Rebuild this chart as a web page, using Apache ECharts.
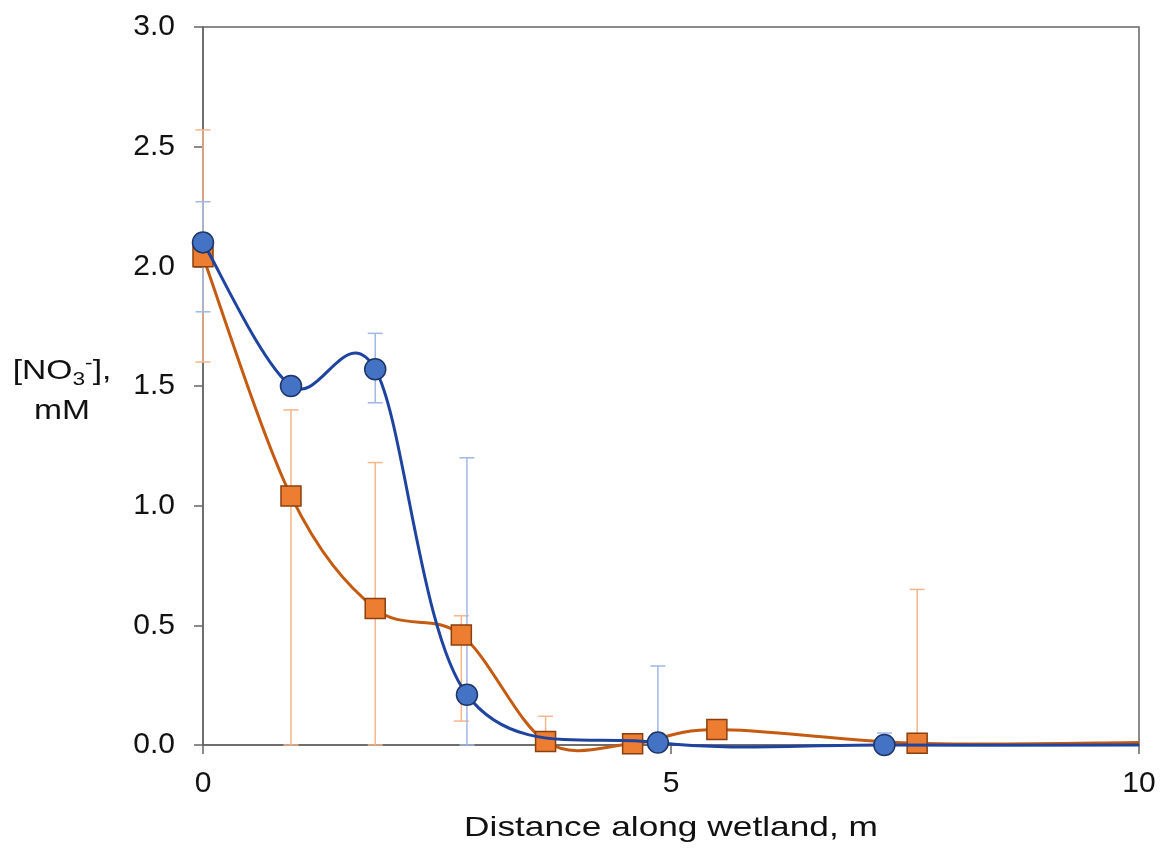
<!DOCTYPE html>
<html>
<head>
<meta charset="utf-8">
<script src="https://cdn.jsdelivr.net/npm/echarts@6/dist/echarts.min.js"></script>
<style>
html,body{margin:0;padding:0;background:#fff;}
#chart{width:1160px;height:850px;}
</style>
</head>
<body>
<div id="chart"></div>
<script>
// blue circles (last point only carries the line to the edge)
var blueX = [0, 0.94, 1.84, 2.82, 4.86, 7.28, 10];
var blueY = [2.10, 1.50, 1.57, 0.21, 0.01, 0.00, 0.00];
var blueLow  = [1.81, null, 1.43, 0.00, 0.00, 0.00, null];
var blueHigh = [2.27, null, 1.72, 1.20, 0.33, 0.05, null];
// orange squares
var orangeX = [0, 0.94, 1.84, 2.76, 3.66, 4.59, 5.49, 7.63, 10];
var orangeY = [2.04, 1.04, 0.57, 0.46, 0.015, 0.005, 0.065, 0.007, 0.01];
var orangeLow  = [1.60, 0.00, 0.00, 0.10, 0.00, null, null, 0.00, null];
var orangeHigh = [2.57, 1.40, 1.18, 0.54, 0.12, null, null, 0.65, null];
var yTicks = ['0.0', '0.5', '1.0', '1.5', '2.0', '2.5', '3.0'];

var chart = echarts.init(document.getElementById('chart'));

function marks(xs, ys) {
    var out = [];
    for (var i = 0; i < xs.length - 1; i++) out.push([xs[i], ys[i]]);
    return out;
}
function errs(xs, lo, hi) {
    var out = [];
    for (var i = 0; i < xs.length; i++) {
        if (lo[i] != null) out.push([xs[i], lo[i], hi[i]]);
    }
    return out;
}
function errBar(color) {
    return function (params, api) {
        var p1 = api.coord([api.value(0), api.value(1)]);
        var p2 = api.coord([api.value(0), api.value(2)]);
        var w = 7.5;
        var st = {stroke: color, lineWidth: 1.5};
        return {type: 'group', children: [
            {type: 'line', shape: {x1: p1[0], y1: p1[1], x2: p2[0], y2: p2[1]}, style: st},
            {type: 'line', shape: {x1: p1[0]-w, y1: p1[1], x2: p1[0]+w, y2: p1[1]}, style: st},
            {type: 'line', shape: {x1: p2[0]-w, y1: p2[1], x2: p2[0]+w, y2: p2[1]}, style: st}
        ]};
    };
}
// excel-like smoothed line (catmull-rom through the points)
function smoothLine(xs, ys, color) {
    return function (params, api) {
        var p = [];
        for (var i = 0; i < xs.length; i++) p.push(api.coord([xs[i], ys[i]]));
        var n = p.length, kids = [];
        for (var i = 0; i < n - 1; i++) {
            var a = p[Math.max(i-1, 0)], b = p[i], c = p[i+1], d = p[Math.min(i+2, n-1)];
            kids.push({type: 'bezierCurve', shape: {
                x1: b[0], y1: b[1], x2: c[0], y2: c[1],
                cpx1: b[0] + (c[0]-a[0])/6, cpy1: b[1] + (c[1]-a[1])/6,
                cpx2: c[0] - (d[0]-b[0])/6, cpy2: c[1] - (d[1]-b[1])/6
            }, style: {stroke: color, lineWidth: 3, fill: null}});
        }
        return {type: 'group', children: kids};
    };
}

var font = 'Liberation Sans, Arial, sans-serif';
var txt = '#111';
option = {
    animation: false,
    grid: {left: 203, right: 21, top: 27, bottom: 105, show: true, borderColor: '#666', borderWidth: 1.5,
        outerBoundsMode: 'none', containLabel: false},
    xAxis: {
        type: 'value', min: 0, max: 10, interval: 5,
        axisLine: {lineStyle: {color: '#666', width: 1.5}},
        axisTick: {show: true, length: 9, lineStyle: {color: '#666', width: 1.5}},
        axisLabel: {fontSize: 30, color: txt, fontFamily: font, margin: 24},
        splitLine: {show: false}
    },
    yAxis: {
        type: 'value', min: 0, max: 3, interval: 0.5,
        axisLine: {show: true, lineStyle: {color: '#666', width: 1.5}},
        axisTick: {show: true, length: 9, lineStyle: {color: '#666', width: 1.5}},
        axisLabel: {fontSize: 30, color: txt, fontFamily: font, margin: 28,
            formatter: function (v) { return yTicks[Math.round(v / 0.5)]; }},
        splitLine: {show: false}
    },
    graphic: [{
        type: 'text', x: 671, y: 828, scaleX: 1.26,
        style: {text: 'Distance along wetland, m', font: '28px ' + font, fill: txt,
            textAlign: 'center', textVerticalAlign: 'middle'}
    }, {
        type: 'text', x: 62, y: 391, scaleX: 1.2,
        style: {
            text: '{a|[NO}{s|3}{p|-}{a|],}\n{a|mM}',
            fill: txt, textAlign: 'center', textVerticalAlign: 'middle',
            rich: {
                a: {fontSize: 28, fontFamily: font, lineHeight: 40, fill: txt},
                s: {fontSize: 19, fontFamily: font, lineHeight: 40, padding: [18, 0, 0, 0], fill: txt},
                p: {fontSize: 19, fontFamily: font, lineHeight: 40, padding: [0, 0, 14, 0], fill: txt}
            }
        }
    }],
    series: [
        {type: 'custom', renderItem: errBar('#f6b58a'), data: errs(orangeX, orangeLow, orangeHigh),
            encode: {x: 0, y: [1, 2]}, z: 1, silent: true},
        {type: 'custom', renderItem: errBar('#9fb8e6'), data: errs(blueX, blueLow, blueHigh),
            encode: {x: 0, y: [1, 2]}, z: 1, silent: true},
        {type: 'custom', renderItem: smoothLine(orangeX, orangeY, '#c55a11'), data: [[0, 0]],
            encode: {x: 0, y: 1}, z: 2, silent: true},
        {type: 'scatter', name: 'orange', data: marks(orangeX, orangeY), z: 3,
            symbol: 'rect', symbolSize: 20,
            itemStyle: {color: '#ed7d31', borderColor: '#8a3f0e', borderWidth: 1.5, opacity: 1}},
        {type: 'custom', renderItem: smoothLine(blueX, blueY, '#1f44a0'), data: [[0, 0]],
            encode: {x: 0, y: 1}, z: 4, silent: true},
        {type: 'scatter', name: 'blue', data: marks(blueX, blueY), z: 5,
            symbol: 'circle', symbolSize: 21,
            itemStyle: {color: '#4472c4', borderColor: '#1d3568', borderWidth: 1.5, opacity: 1}}
    ]
};
chart.setOption(option);
</script>
</body>
</html>
